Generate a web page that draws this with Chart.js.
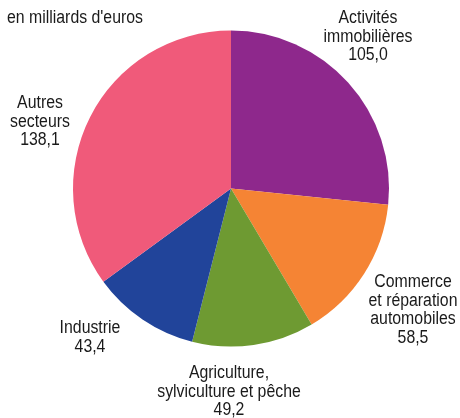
<!DOCTYPE html>
<html lang="fr">
<head>
    <meta charset="UTF-8">
    <title>Valeur ajoutée par secteur</title>
    <script src="https://cdn.jsdelivr.net/npm/chart.js@4.4.0/dist/chart.umd.min.js"></script>
    <style>
        html, body { margin: 0; padding: 0; background: #fff; }
        #wrap { width: 460px; height: 418px; }
    </style>
</head>
<body>
    <div id="wrap"><canvas id="pieChart" width="460" height="418"></canvas></div>
    <script>
        // données
        const secteurs = [
            ['Activités', 'immobilières'],
            ['Commerce', 'et réparation', 'automobiles'],
            ['Agriculture,', 'sylviculture et pêche'],
            ['Industrie'],
            ['Autres', 'secteurs']
        ];
        const valeurs = [105.0, 58.5, 49.2, 43.4, 138.1];
        const couleurs = ['#8e288c', '#f58434', '#6e9a32', '#21449a', '#f05a7a'];
        const unite = "en milliards d'euros";

        const police = '"Liberation Sans", Arial, sans-serif';
        const serrage = 0.88; // texte condensé

        // position des étiquettes (centre du bloc de texte)
        const posEtiquettes = [
            { x: 368, y: 18 },
            { x: 413, y: 282 },
            { x: 229, y: 373 },
            { x: 90, y: 328 },
            { x: 40, y: 103 }
        ];

        function texte(ctx, s, x, y) {
            ctx.save();
            ctx.translate(x, y);
            ctx.scale(serrage, 1);
            ctx.fillText(s, 0, 0);
            ctx.restore();
        }

        const etiquettes = {
            id: 'etiquettes',
            afterDraw(chart) {
                const ctx = chart.ctx;
                ctx.save();
                ctx.fillStyle = '#1a1a1a';
                ctx.font = '18px ' + police;
                ctx.textBaseline = 'middle';
                ctx.textAlign = 'left';
                texte(ctx, unite, 7, 18);
                ctx.textAlign = 'center';
                secteurs.forEach((lignes, i) => {
                    const p = posEtiquettes[i];
                    const txt = lignes.concat([valeurs[i].toFixed(1).replace('.', ',')]);
                    txt.forEach((l, k) => texte(ctx, l, p.x, p.y + k * 18.7));
                });
                ctx.restore();
            }
        };

        new Chart(document.getElementById('pieChart'), {
            type: 'pie',
            data: {
                labels: secteurs.map(s => s.join(' ')),
                datasets: [{
                    data: valeurs,
                    backgroundColor: couleurs,
                    borderWidth: 0
                }]
            },
            options: {
                responsive: false,
                animation: false,
                layout: { padding: { top: 30, bottom: 71, left: 73, right: 71 } },
                plugins: {
                    legend: { display: false },
                    tooltip: { enabled: false }
                }
            },
            plugins: [etiquettes]
        });
    </script>
</body>
</html>
